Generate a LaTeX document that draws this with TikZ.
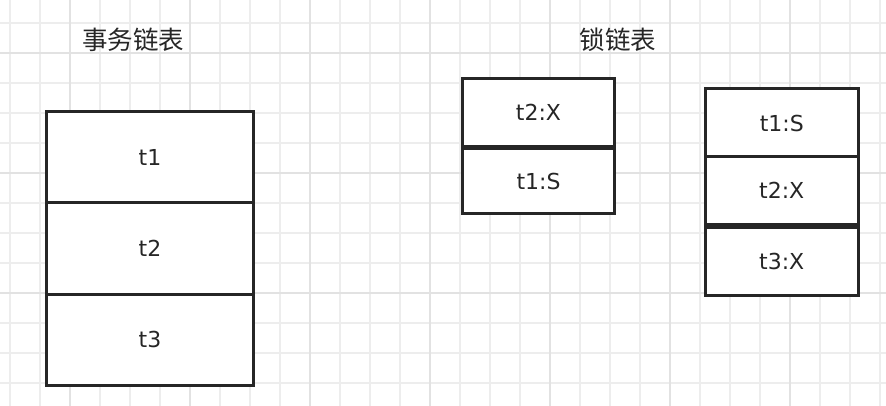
\documentclass[tikz,border=0pt]{standalone}
\usepackage{fontspec}
\setmainfont{DejaVu Sans}
\newfontfamily\cjk{Noto Sans CJK SC}
\definecolor{gridminor}{HTML}{EDEDED}
\definecolor{gridmajor}{HTML}{E2E2E2}
\definecolor{ink}{HTML}{262626}
\begin{document}
\begin{tikzpicture}[x=1pt,y=-1pt,
  cell/.style={draw=ink, line width=3pt, fill=white, inner sep=0pt, text=ink,
    font=\fontsize{22}{24}\selectfont},
  title/.style={inner sep=0pt, text=ink, font=\cjk\fontsize{25.5}{28}\selectfont}]
\useasboundingbox (0,0) rectangle (886,406);
\fill[white] (0,0) rectangle (886,406);
% grid
\foreach \k in {0,...,29} {\draw[gridminor, line width=1.5pt] (10+30*\k,0) -- (10+30*\k,406);}
\foreach \k in {0,...,13} {\draw[gridminor, line width=1.5pt] (0,23+30*\k) -- (886,23+30*\k);}
\foreach \k in {0,...,6} {\draw[gridmajor, line width=1.5pt] (70+120*\k,0) -- (70+120*\k,406);}
\foreach \k in {0,...,2} {\draw[gridmajor, line width=1.5pt] (0,53+120*\k) -- (886,53+120*\k);}
% titles
\node[title] (tt) at (133,40) {事务链表};
\node[title] (lt) at (618,40) {锁链表};
% transaction list
\node[cell, minimum width=207pt, minimum height=91pt] (a1) at (150,157.5) {t1};
\node[cell, minimum width=207pt, minimum height=91pt] (a2) at (150,248.5) {t2};
\node[cell, minimum width=207pt, minimum height=91pt] (a3) at (150,339.5) {t3};
% lock list 1
\node[cell, minimum width=152pt, minimum height=68.5pt] (b1) at (538.5,112.75) {t2:X};
\node[cell, minimum width=152pt, minimum height=65.5pt] (b2) at (538.5,181.25) {t1:S};
% lock list 2
\node[cell, minimum width=153.5pt, minimum height=68pt] (c1) at (781.75,123) {t1:S};
\node[cell, minimum width=153.5pt, minimum height=67.5pt] (c2) at (781.75,190.75) {t2:X};
\node[cell, minimum width=153.5pt, minimum height=68pt] (c3) at (781.75,261.5) {t3:X};
\end{tikzpicture}
\end{document}
